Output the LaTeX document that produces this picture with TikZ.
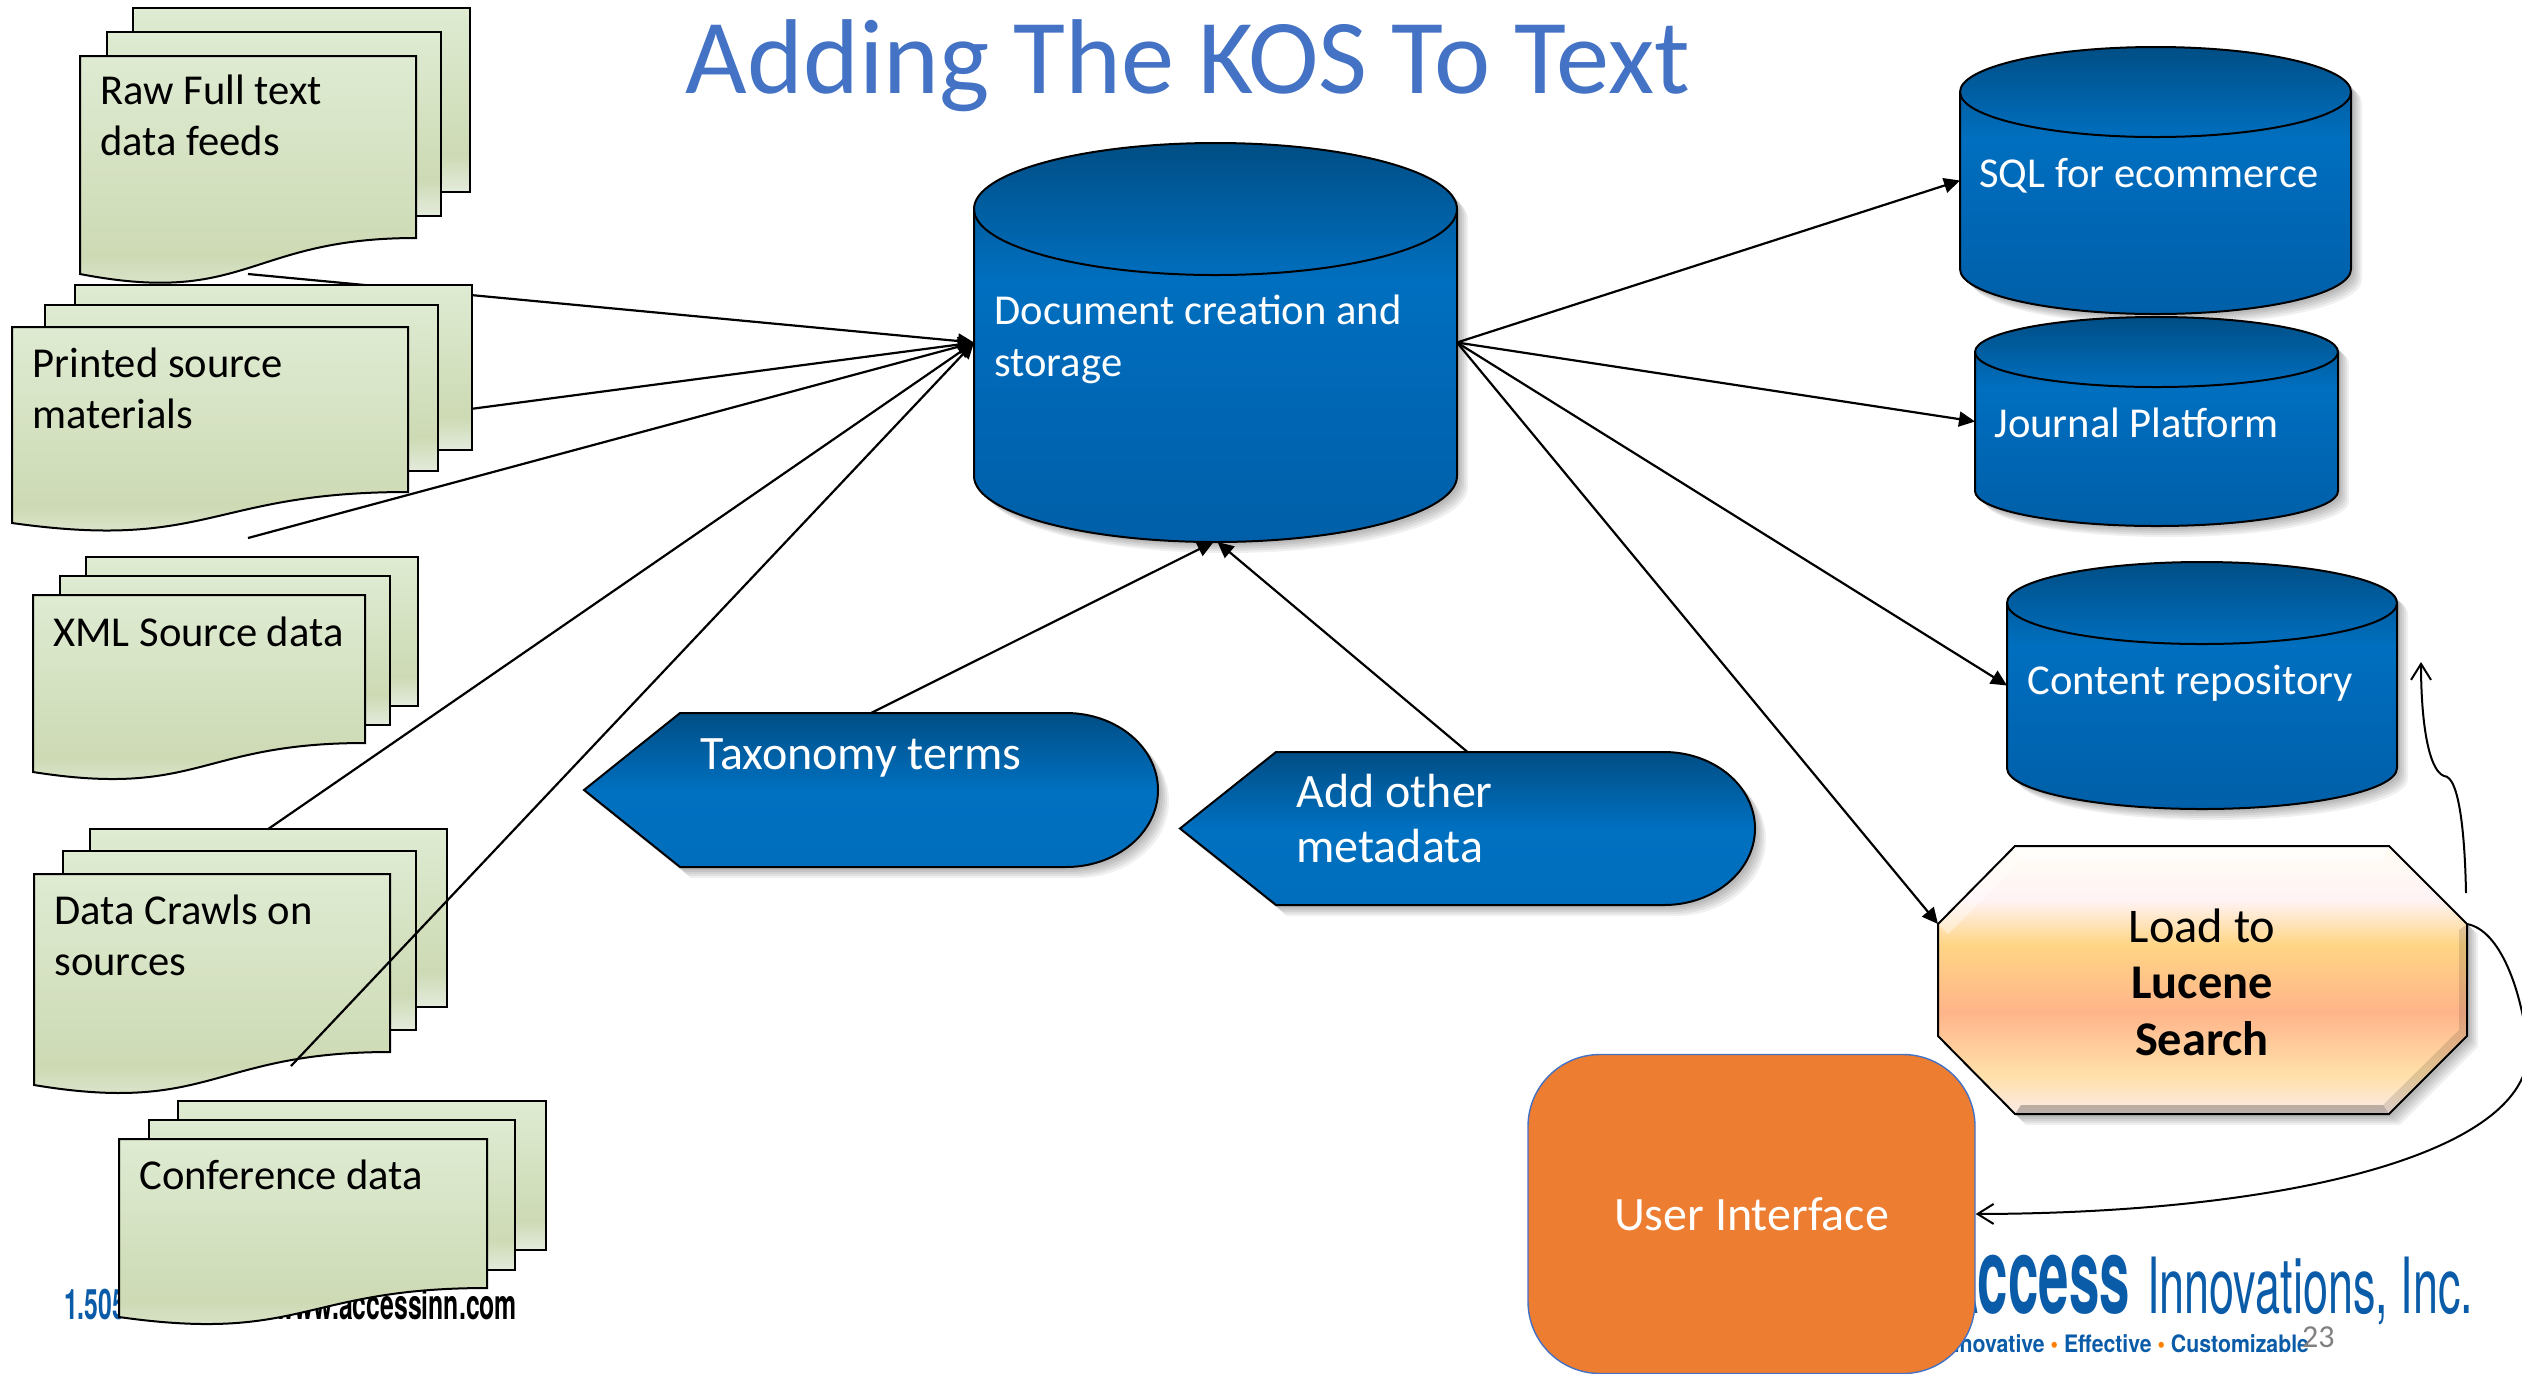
\documentclass[tikz,border=0pt]{standalone}
\usepackage{fontspec}
\setmainfont{Carlito}
\newfontfamily\logofont{TeX Gyre Heros}
\usetikzlibrary{arrows.meta}
\definecolor{kostitle}{HTML}{4472C4}
\definecolor{logoblue}{HTML}{0B5CA8}
\definecolor{uifill}{HTML}{ED7D31}
\pgfdeclareverticalshading{cylshade}{100bp}{color(0bp)=({rgb,255:red,0;green,95;blue,168});color(25bp)=({rgb,255:red,0;green,95;blue,168});color(50bp)=({rgb,255:red,0;green,106;blue,186});color(58bp)=({rgb,255:red,0;green,111;blue,191});color(75bp)=({rgb,255:red,0;green,78;blue,133});color(100bp)=({rgb,255:red,0;green,78;blue,133})}
\pgfdeclareverticalshading{dispshade}{100bp}{color(0bp)=({rgb,255:red,0;green,110;blue,188});color(25bp)=({rgb,255:red,0;green,110;blue,188});color(50bp)=({rgb,255:red,0;green,112;blue,192});color(75bp)=({rgb,255:red,0;green,78;blue,133});color(100bp)=({rgb,255:red,0;green,78;blue,133})}
\pgfdeclareverticalshading{docshade}{100bp}{color(0bp)=({rgb,255:red,228;green,235;blue,220});color(25bp)=({rgb,255:red,228;green,235;blue,220});color(35bp)=({rgb,255:red,205;green,218;blue,180});color(75bp)=({rgb,255:red,223;green,235;blue,210});color(100bp)=({rgb,255:red,223;green,235;blue,210})}
\pgfdeclareverticalshading{octshade}{100bp}{color(0bp)=({rgb,255:red,251;green,234;blue,230});color(25bp)=({rgb,255:red,251;green,234;blue,230});color(32.5bp)=({rgb,255:red,255;green,224;blue,168});color(44bp)=({rgb,255:red,255;green,180;blue,138});color(56.5bp)=({rgb,255:red,255;green,213;blue,133});color(65bp)=({rgb,255:red,255;green,243;blue,245});color(75bp)=({rgb,255:red,255;green,253;blue,242});color(100bp)=({rgb,255:red,255;green,253;blue,242})}
\tikzset{
  x=.5pt,y=-.5pt,
  outline/.style={draw=black,line width=1pt},
  softshadow/.style={fill=black,opacity=.06},
  conn/.style={draw=black,line width=1.1pt,-{Triangle[length=8pt,width=7.5pt]}},
  curveconn/.style={draw=black,line width=1pt,-{Straight Barb[length=8pt,width=10pt]}},
  plainport/.style={inner sep=0pt,outer sep=0pt},
  doctext/.style={anchor=base west,inner sep=0pt,align=left,font=\fontsize{21.3}{25.5}\selectfont,text=black},
  bluetext/.style={anchor=base west,inner sep=0pt,align=left,font=\fontsize{21.3}{26}\selectfont,text=white},
}
% one sheet of a stack: plain rectangle
\newcommand\backsheet[4]{\path[outline,shading=docshade] (#1,#3) rectangle (#2,#4);}
% front sheet: xl xr top yr yl
\newcommand\frontsheet[5]{%
  \pgfmathsetmacro\xm{(#1+#2)/2}\pgfmathsetmacro\yc{#5+.9*(#5-#4)}%
  \path[outline,shading=docshade] (#1,#3) -- (#2,#3) -- (#2,#4) .. controls (\xm,#4) and (\xm,\yc) .. (#1,#5) -- cycle;}
% cylinder: name xl xr top ry bottom
\newcommand\kcyl[6]{%
  \pgfmathsetmacro\xm{(#2+#3)/2}\pgfmathsetmacro\rx{(#3-#2)/2}%
  \pgfmathsetmacro\kx{.5523*\rx}\pgfmathsetmacro\ky{.5523*#5}%
  \pgfmathsetmacro\yu{#4+#5}\pgfmathsetmacro\yl{#6-#5}\pgfmathsetmacro\yr{#4+2*#5}%
  \pgfmathsetmacro\ma{\xm-\kx}\pgfmathsetmacro\mb{\xm+\kx}%
  \pgfmathsetmacro\ua{\yu-\ky}\pgfmathsetmacro\ub{\yu+\ky}\pgfmathsetmacro\la{\yl+\ky}%
  \def\cylpath{(#2,\yu) .. controls (#2,\ua) and (\ma,#4) .. (\xm,#4) .. controls (\mb,#4) and (#3,\ua) .. (#3,\yu) -- (#3,\yl) .. controls (#3,\la) and (\mb,#6) .. (\xm,#6) .. controls (\ma,#6) and (#2,\la) .. (#2,\yl) -- cycle}%
  \foreach \k in {3,5,7,9,11}{\path[softshadow,shift={(\k,\k)}] \cylpath;}%
  \path[outline,shading=cylshade] \cylpath;
  \draw[line width=1pt] (#2,\yu) .. controls (#2,\ub) and (\ma,\yr) .. (\xm,\yr) .. controls (\mb,\yr) and (#3,\ub) .. (#3,\yu);
  \pgfmathsetmacro\ym{(#4+#6)/2}\pgfmathsetmacro\kwd{#3-#2}\pgfmathsetmacro\kht{#6-#4}%
  \node[plainport,minimum width=\kwd*.5pt,minimum height=\kht*.5pt] (#1) at (\xm,\ym) {};}
% display shape: name tip flat curvestart right top bottom
\newcommand\kdisp[7]{%
  \pgfmathsetmacro\ym{(#6+#7)/2}\pgfmathsetmacro\kx{.5523*(#5-#4)}\pgfmathsetmacro\ky{.5523*(#7-#6)/2}%
  \pgfmathsetmacro\ca{#4+\kx}\pgfmathsetmacro\ua{\ym-\ky}\pgfmathsetmacro\ub{\ym+\ky}%
  \def\disppath{(#2,\ym) -- (#3,#6) -- (#4,#6) .. controls (\ca,#6) and (#5,\ua) .. (#5,\ym) .. controls (#5,\ub) and (\ca,#7) .. (#4,#7) -- (#3,#7) -- cycle}%
  \foreach \k in {3,5,7,9,11}{\path[softshadow,shift={(\k,\k)}] \disppath;}%
  \path[outline,shading=dispshade] \disppath;
  \pgfmathsetmacro\xc{(#2+#5)/2}\pgfmathsetmacro\kwd{#5-#2}\pgfmathsetmacro\kht{#7-#6}%
  \node[plainport,minimum width=\kwd*.5pt,minimum height=\kht*.5pt] (#1) at (\xc,\ym) {};}
\begin{document}
\begin{tikzpicture}
\clip (0,0) rectangle (2522,1373);
\fill[white] (0,0) rectangle (2522,1373);

% logo and footer, behind the shapes
\node[plainport,anchor=base west,text=logoblue,font=\logofont\bfseries\fontsize{20}{20}\selectfont,xscale=.62,yscale=1.05] (phone) at (64,1319) {1.505.};
\node[plainport,anchor=base east,text=black,font=\logofont\bfseries\fontsize{20}{20}\selectfont,xscale=.62,yscale=1.05] (web) at (517,1319) {www.accessinn.com};
\node[plainport,anchor=base east,text=logoblue,font=\logofont\bfseries\fontsize{38}{38}\selectfont,xscale=.72,yscale=1.4] (logoA) at (2130,1313) {Access};
\node[plainport,anchor=base east,text=logoblue,font=\logofont\fontsize{38}{38}\selectfont,xscale=.592,yscale=1.02] (logoB) at (2473,1313) {Innovations, Inc.};
\node[plainport,anchor=base east,text=logoblue,font=\logofont\bfseries\fontsize{12}{12}\selectfont,xscale=.886] (tagline) at (2309,1352) {Innovative {\color{orange}•} Effective {\color{orange}•} Customizable};
\node[plainport,anchor=base west,text=black!50,font=\fontsize{16}{16}\selectfont] (pagenum) at (2302,1347) {23};

% title
\node[plainport,anchor=base,text=kostitle,font=\fontsize{53.2}{53.2}\selectfont] (title) at (1188,93) {Adding The KOS To Text};

% free ends of the source connectors
\coordinate (rawout) at (248,274);
\coordinate (printedout) at (440,413);
\coordinate (xmlout) at (248,538);
\coordinate (crawlout) at (200,876);
\coordinate (confout) at (291,1066);
\coordinate (lucenecorner) at (1938,924);
\coordinate (lucenetop) at (2466,893);
\coordinate (luceneright) at (2467,924);

% main store (its node is needed by the connectors drawn beneath the stacks)
\kcyl{main}{974}{1457}{143}{66}{542}
\node[bluetext] (maintext) at (994,376) {Document creation and\\storage};

% connectors that pass behind the sheets
\draw[conn] (rawout) -- (main.west);
\draw[conn] (printedout) -- (main.west);
\draw[conn] (xmlout) -- (main.west);
\draw[conn] (crawlout) -- (main.west);

% stack 1
\backsheet{133}{470}{8}{192}
\backsheet{107}{441}{32}{216}
\frontsheet{80}{416}{56}{238}{274}
\node[doctext] (raw) at (100,155) {Raw Full text\\data feeds};
% stack 2
\backsheet{75}{472}{285}{450}
\backsheet{45}{438}{305}{471}
\frontsheet{12}{408}{327}{492}{523}
\node[doctext] (printed) at (32,428) {Printed source\\materials};
% stack 3
\backsheet{86}{418}{557}{706}
\backsheet{60}{390}{576}{725}
\frontsheet{33}{365}{595}{743}{772}
\node[doctext] (xml) at (53,646) {XML Source data};
% stack 4
\backsheet{90}{447}{829}{1007}
\backsheet{63}{416}{851}{1030}
\frontsheet{34}{390}{874}{1052}{1085}
\node[doctext] (crawl) at (54,975) {Data Crawls on\\sources};
% stack 5
\backsheet{178}{546}{1101}{1250}
\backsheet{149}{515}{1120}{1270}
\frontsheet{119}{487}{1139}{1288}{1317}
\node[doctext] (conf) at (139,1189) {Conference data};

\draw[conn] (confout) -- (main.west);

% taxonomy and metadata
\kdisp{tax}{584}{680}{1066}{1158}{713}{867}
\node[bluetext,font=\fontsize{24}{28}\selectfont] (taxtext) at (700,769) {Taxonomy terms};
\kdisp{meta}{1180}{1276}{1664}{1755}{752}{905}
\node[bluetext,font=\fontsize{24}{27.5}\selectfont] (metatext) at (1296,862) {Add other\\metadata};
\draw[conn] (tax.north) -- ([xshift=-1pt]main.south);
\draw[conn] (meta.north) -- ([xshift=1pt]main.south);

% output stores
\kcyl{sql}{1960}{2351}{47}{45}{314}
\node[bluetext] (sqltext) at (1979,187) {SQL for ecommerce};
\kcyl{journal}{1975}{2338}{317}{35}{526}
\node[bluetext] (journaltext) at (1994,437) {Journal Platform};
\kcyl{content}{2007}{2397}{562}{41}{809}
\node[bluetext] (contenttext) at (2027,694) {Content repository};
\draw[conn] (main.east) -- (sql.west);
\draw[conn] (main.east) -- (journal.west);
\draw[conn] (main.east) -- (content.west);

% Lucene octagon
\foreach \k in {3,5,7,9,11}{\path[softshadow,shift={(\k,\k)}] (2015,846) -- (2389,846) -- (2467,924) -- (2467,1036) -- (2389,1114) -- (2015,1114) -- (1938,1036) -- (1938,924) -- cycle;}
\path[shading=octshade] (2015,846) -- (2389,846) -- (2467,924) -- (2467,1036) -- (2389,1114) -- (2015,1114) -- (1938,1036) -- (1938,924) -- cycle;
\fill[white,opacity=.75] (2015,846) -- (2389,846) -- (2383,861) -- (2021,861) -- cycle;
\fill[white,opacity=.4] (1938,924) -- (2015,846) -- (2021,861) -- (1948,934) -- cycle;
\fill[black,opacity=.12] (2467,924) -- (2467,1036) -- (2459,1030) -- (2459,930) -- cycle;
\fill[black,opacity=.25] (2015,1114) -- (2389,1114) -- (2383,1105) -- (2021,1105) -- cycle;
\fill[black,opacity=.12] (2467,1036) -- (2389,1114) -- (2383,1105) -- (2459,1030) -- cycle;
\draw[line width=1pt] (2015,846) -- (2389,846) -- (2467,924) -- (2467,1036) -- (2389,1114) -- (2015,1114) -- (1938,1036) -- (1938,924) -- cycle;
\node[plainport,minimum width=264.5pt,minimum height=134pt] (lucene) at (2202.5,980) {};
\node[plainport,anchor=base,align=center,text=black,font=\fontsize{24.2}{28.25}\selectfont] (lucenetext) at (2202,1055) {Load to\\\textbf{Lucene}\\\textbf{Search}};
\draw[conn] (main.east) -- (lucenecorner);

% user interface
\node[draw=kostitle,line width=.7pt,fill=uifill,rounded corners=36pt,minimum width=223.5pt,minimum height=159.5pt,inner sep=0pt,text=white,font=\fontsize{24}{28}\selectfont] (ui) at (1751.5,1214) {User Interface};

% curved connectors
\draw[curveconn] (luceneright) .. controls (2500,930) and (2522,990) .. (2528,1050) .. controls (2530,1150) and (2300,1213) .. (ui.east);
\draw[curveconn] (lucenetop) .. controls (2465,840) and (2460,776) .. (2444,776) .. controls (2428,770) and (2421,720) .. ([xshift=12pt,yshift=11.75pt]content.east);
\end{tikzpicture}
\end{document}
